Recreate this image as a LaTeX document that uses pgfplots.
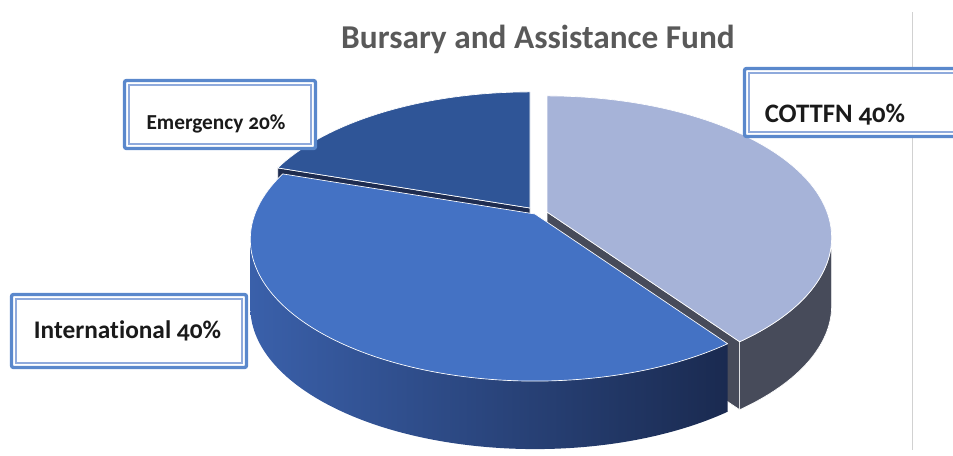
\documentclass[border=0pt]{standalone}
\usepackage{pgfplots}
\pgfplotsset{compat=1.18}
\usepackage{pgfplotstable}
\usepackage{fontspec}
\setmainfont{Carlito}[Numbers=OldStyle, Ligatures=NoCommon]

\definecolor{cottfnTop}{HTML}{A6B3D8}
\definecolor{cottfnSide}{HTML}{474B5A}
\definecolor{emergTop}{HTML}{2F5597}
\definecolor{emergSide}{HTML}{1E2C50}
\definecolor{intTop}{HTML}{4472C4}
\definecolor{intSideL}{HTML}{3A60AA}
\definecolor{intSideR}{HTML}{1A2A50}
\definecolor{boxblue}{HTML}{5A88CC}
\definecolor{boxinner}{HTML}{8FAADC}
\definecolor{titlegray}{HTML}{595959}
\definecolor{labeltext}{HTML}{1A1A1A}

\pgfplotstableread{
slice value
COTTFN 40
International 40
Emergency 20
}\piedata

% perspective model (pixel units)
\pgfmathsetmacro\pK{0.18}
\pgfmathsetmacro\pC{137}
\pgfmathsetmacro\pS{280}
\pgfmathsetmacro\pD{68}
\pgfmathsetmacro\pRx{\pS/sqrt(1-\pK*\pK)}
\pgfmathsetmacro\pRy{(\pC/(1-\pK)+\pC/(1+\pK))/2}
\pgfmathsetmacro\pYc{(\pC/(1-\pK)-\pC/(1+\pK))/2}
\pgfmathsetmacro\pRxpt{\pRx*0.75}
\pgfmathsetmacro\pRypt{\pRy*0.75}
\pgfmathsetmacro\pYcpt{\pYc*0.75}
\pgfmathsetmacro\pDpt{\pD*0.75}

\newcommand\pangle[2]{%
  \pgfmathsetmacro\tmpden{1+\pK*sin(#1)}%
  \pgfmathsetmacro\tmpX{\pS*cos(#1)/\tmpden}%
  \pgfmathsetmacro\tmpY{\pC*sin(#1)/\tmpden}%
  \pgfmathsetmacro#2{atan2((\tmpY+\pYc)/\pRy,\tmpX/\pRx)}}

\pgfplotstablegetelem{0}{value}\of\piedata\pgfmathsetmacro\vA{\pgfplotsretval}
\pgfplotstablegetelem{1}{value}\of\piedata\pgfmathsetmacro\vB{\pgfplotsretval}
\pgfplotstablegetelem{2}{value}\of\piedata\pgfmathsetmacro\vC{\pgfplotsretval}
\pgfmathsetmacro\vT{\vA+\vB+\vC}
\pgfmathsetmacro\aZero{90}
\pgfmathsetmacro\aOne{\aZero-360*\vA/\vT}
\pgfmathsetmacro\aTwo{\aOne-360*\vB/\vT}
\pgfmathsetmacro\aThree{\aTwo-360*\vC/\vT}
\pangle{\aZero}{\tZero}
\pangle{\aOne}{\tOne}
\pangle{\aTwo}{\tTwo}
\pangle{\aThree}{\tThree}
\pgfmathsetmacro\tOneP{\tOne+360}

\begin{document}
\begin{tikzpicture}
\useasboundingbox (0,0) rectangle (714.75pt,341.25pt);
\clip (0,0) rectangle (714.75pt,341.25pt);
\begin{axis}[at={(0,0)}, anchor=south west, scale only axis,
  width=714.75pt, height=341.25pt,
  xmin=0, xmax=953, ymin=0, ymax=455, y dir=reverse,
  hide axis, clip=false]

% frame line
\draw[black!18, line width=0.75pt] (axis cs:912,12) -- (axis cs:912,450);

% apexes and ellipse centres
\coordinate (AE) at (axis cs:530,208);
\coordinate (AK) at (axis cs:547,212);
\coordinate (AI) at (axis cs:535,214);
\coordinate (EE) at ([yshift=-\pYcpt pt]AE);
\coordinate (EK) at ([yshift=-\pYcpt pt]AK);
\coordinate (EI) at ([yshift=-\pYcpt pt]AI);

% Emergency radial wall
\filldraw[fill=emergSide, draw=white, line width=0.5pt, line join=round]
  (AE) -- ([shift={(\tTwo:\pRxpt pt and \pRypt pt)}]EE)
  -- ++(0,-\pDpt pt) -- ([yshift=-\pDpt pt]AE) -- cycle;
% Emergency top
\filldraw[fill=emergTop, draw=white, line width=0.5pt, line join=round]
  (AE) -- ([shift={(\tThree:\pRxpt pt and \pRypt pt)}]EE)
  arc[start angle=\tThree, end angle=\tTwo, x radius=\pRxpt pt, y radius=\pRypt pt] -- cycle;

% COTTFN radial wall
\filldraw[fill=cottfnSide, draw=white, line width=0.5pt, line join=round]
  (AK) -- ([shift={(\tOne:\pRxpt pt and \pRypt pt)}]EK)
  -- ++(0,-\pDpt pt) -- ([yshift=-\pDpt pt]AK) -- cycle;
% COTTFN outer wall
\filldraw[fill=cottfnSide, draw=white, line width=0.5pt, line join=round]
  ([shift={(\tOne:\pRxpt pt and \pRypt pt)}]EK)
  arc[start angle=\tOne, end angle=0, x radius=\pRxpt pt, y radius=\pRypt pt]
  -- ++(0,-\pDpt pt)
  arc[start angle=0, end angle=\tOne, x radius=\pRxpt pt, y radius=\pRypt pt] -- cycle;
% COTTFN top
\filldraw[fill=cottfnTop, draw=white, line width=0.5pt, line join=round]
  (AK) -- ([shift={(\tOne:\pRxpt pt and \pRypt pt)}]EK)
  arc[start angle=\tOne, end angle=\tZero, x radius=\pRxpt pt, y radius=\pRypt pt] -- cycle;

% International outer wall
\shade[left color=intSideL, right color=intSideR]
  ([shift={(180:\pRxpt pt and \pRypt pt)}]EI)
  arc[start angle=180, end angle=\tOneP, x radius=\pRxpt pt, y radius=\pRypt pt]
  -- ++(0,-\pDpt pt)
  arc[start angle=\tOneP, end angle=180, x radius=\pRxpt pt, y radius=\pRypt pt] -- cycle;
% International top
\filldraw[fill=intTop, draw=white, line width=0.5pt, line join=round]
  (AI) -- ([shift={(\tTwo:\pRxpt pt and \pRypt pt)}]EI)
  arc[start angle=\tTwo, end angle=\tOneP, x radius=\pRxpt pt, y radius=\pRypt pt] -- cycle;

% title
\node[anchor=base, font=\fontsize{25}{30}\selectfont\bfseries, text=titlegray]
  at (axis cs:538,48) {Bursary and Assistance Fund};

% label boxes
\filldraw[fill=white, draw=boxblue, line width=2.5pt, rounded corners=1.5pt]
  (axis cs:124.5,80.5) rectangle (axis cs:315.5,148.5);
\draw[boxinner, line width=0.8pt] (axis cs:129,85) rectangle (axis cs:311,144);
\node[anchor=base, font=\fontsize{16}{19}\selectfont\bfseries, text=labeltext]
  at (axis cs:216,129) {Emergency 20\%};

\filldraw[fill=white, draw=boxblue, line width=2.5pt, rounded corners=1.5pt]
  (axis cs:744.5,68.5) rectangle (axis cs:975,136.5);
\draw[boxinner, line width=0.8pt] (axis cs:749,73) rectangle (axis cs:970,132);
\node[anchor=base, font=\fontsize{20}{24}\selectfont\bfseries, text=labeltext]
  at (axis cs:835,122) {COTTFN 40\%};

\filldraw[fill=white, draw=boxblue, line width=2.5pt, rounded corners=1.5pt]
  (axis cs:11.5,294.5) rectangle (axis cs:246.5,367.5);
\draw[boxinner, line width=0.8pt] (axis cs:16,299) rectangle (axis cs:242,363);
\node[anchor=base, font=\fontsize{19}{23}\selectfont\bfseries, text=labeltext]
  at (axis cs:127.5,338) {International 40\%};

\end{axis}
\end{tikzpicture}
\end{document}
